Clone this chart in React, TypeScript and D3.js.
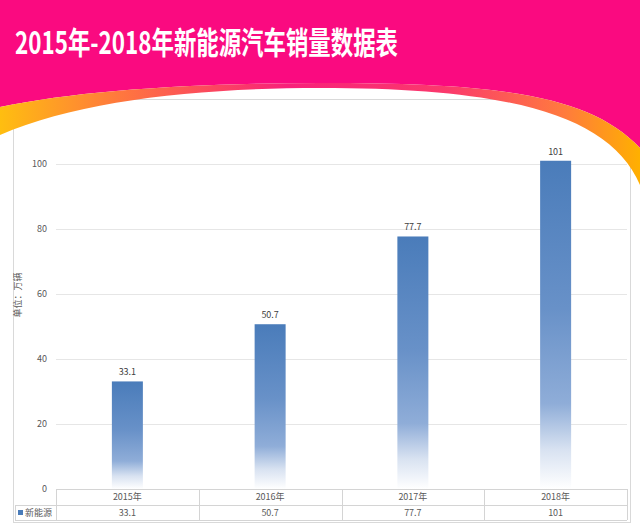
import React from "react";
import * as d3 from "d3";

const categories = ["2015年", "2016年", "2017年", "2018年"];
const seriesName = "新能源";
const sales = [33.1, 50.7, 77.7, 101];
const yTicks = [0, 20, 40, 60, 80, 100];
const title = "2015年-2018年新能源汽车销量数据表";
const yTitle = "单位：万辆";

const W = 640;
const H = 527;
const FONT = "'Noto Sans CJK SC', 'Microsoft YaHei', sans-serif";

export default function App() {
  const plotLeft = 56;
  const plotRight = 627;
  const y = d3.scaleLinear().domain([0, 100]).range([489, 164]);
  const x = d3.scaleBand().domain(categories).range([plotLeft, plotRight]).paddingInner(0).paddingOuter(0);
  const barW = 31;
  const row1Top = y(0);
  const row2Top = row1Top + 16;
  const row2Bottom = row2Top + 15;

  const outerCurve = "M0,107 C80,90 200,83 320,83 C500,83 590,95 640,148";

  return (
    <svg
      width={W}
      height={H}
      style={{ position: "absolute", left: 0, top: 0, display: "block", background: "#fff" }}
      fontFamily={FONT}
    >
      <defs>
        <linearGradient id="barGrad" x1="0" y1="0" x2="0" y2="1">
          <stop offset="0" stopColor="#4A7CBA" />
          <stop offset="0.45" stopColor="#6891C8" />
          <stop offset="0.74" stopColor="#8FADD8" />
          <stop offset="0.88" stopColor="#D8E2F1" />
          <stop offset="1" stopColor="#FFFFFF" />
        </linearGradient>
        <linearGradient id="bandGrad" x1="0" y1="0" x2={W} y2="0" gradientUnits="userSpaceOnUse">
          <stop offset="0" stopColor="#FFBE10" />
          <stop offset="0.18" stopColor="#FF7A3C" />
          <stop offset="0.45" stopColor="#F8207A" />
          <stop offset="0.7" stopColor="#FB3A6C" />
          <stop offset="0.88" stopColor="#FF7A3E" />
          <stop offset="1" stopColor="#FFB000" />
        </linearGradient>
      </defs>

      <rect x={0} y={0} width={W} height={H} fill="#fff" />

      {/* chart frame */}
      <rect x={13.5} y={99.5} width={617} height={423} fill="none" stroke="#D9D9D9" strokeWidth={1} />

      {/* gridlines */}
      {yTicks.filter((t) => t > 0).map((t) => (
        <line key={t} x1={plotLeft} x2={plotRight} y1={Math.round(y(t)) + 0.5} y2={Math.round(y(t)) + 0.5} stroke="#E6E6E6" strokeWidth={1} />
      ))}

      {/* tick labels */}
      {yTicks.map((t) => (
        <text key={t} x={47} y={y(t)} dy="0.35em" textAnchor="end" fontSize={9} fill="#595959">
          {t}
        </text>
      ))}

      {/* y title */}
      <text transform={`translate(21,295) rotate(-90)`} textAnchor="middle" fontSize={9} fill="#595959">
        {yTitle}
      </text>

      {/* bars */}
      {sales.map((v, i) => {
        const cx = (x(categories[i]) as number) + x.bandwidth() / 2;
        return (
          <g key={i}>
            <rect x={cx - barW / 2} y={y(v)} width={barW} height={y(0) - y(v)} fill="url(#barGrad)" />
            <text x={cx} y={y(v) - 6} textAnchor="middle" fontSize={9} fill="#404040">
              {v}
            </text>
          </g>
        );
      })}

      {/* data table */}
      <g stroke="#D4D4D4" strokeWidth={1} fill="none">
        <line x1={plotLeft} x2={plotRight} y1={row1Top + 0.5} y2={row1Top + 0.5} />
        <line x1={15} x2={plotRight} y1={row2Top + 0.5} y2={row2Top + 0.5} />
        <line x1={15} x2={plotRight} y1={row2Bottom + 0.5} y2={row2Bottom + 0.5} />
        <line x1={15.5} x2={15.5} y1={row2Top} y2={row2Bottom} />
        {categories.map((c) => (
          <line key={c} x1={Math.round(x(c) as number) + 0.5} x2={Math.round(x(c) as number) + 0.5} y1={row1Top} y2={row2Bottom} />
        ))}
        <line x1={plotRight + 0.5} x2={plotRight + 0.5} y1={row1Top} y2={row2Bottom} />
      </g>
      {categories.map((c, i) => {
        const cx = (x(c) as number) + x.bandwidth() / 2;
        return (
          <g key={c}>
            <text x={cx} y={(row1Top + row2Top) / 2} dy="0.35em" textAnchor="middle" fontSize={9} fill="#595959">
              {c}
            </text>
            <text x={cx} y={(row2Top + row2Bottom) / 2} dy="0.35em" textAnchor="middle" fontSize={9} fill="#595959">
              {sales[i]}
            </text>
          </g>
        );
      })}
      <rect x={18} y={(row2Top + row2Bottom) / 2 - 2.5} width={5} height={5} fill="#4A7CBA" />
      <text x={25} y={(row2Top + row2Bottom) / 2} dy="0.35em" fontSize={9} fill="#595959">
        {seriesName}
      </text>

      {/* decorative header */}
      <path d={`${outerCurve} L${W},0 L0,0 Z`} fill="#FA0A80" />
      <path
        d={`${outerCurve} L640,185 C610,115 510,88 320,88 C200,88 80,100 0,135 Z`}
        fill="url(#bandGrad)"
      />

      <text x={15} y={54} fontSize={31} fontWeight="bold" fill="#FFFFFF" textLength={383} lengthAdjust="spacingAndGlyphs">
        {title}
      </text>
    </svg>
  );
}
